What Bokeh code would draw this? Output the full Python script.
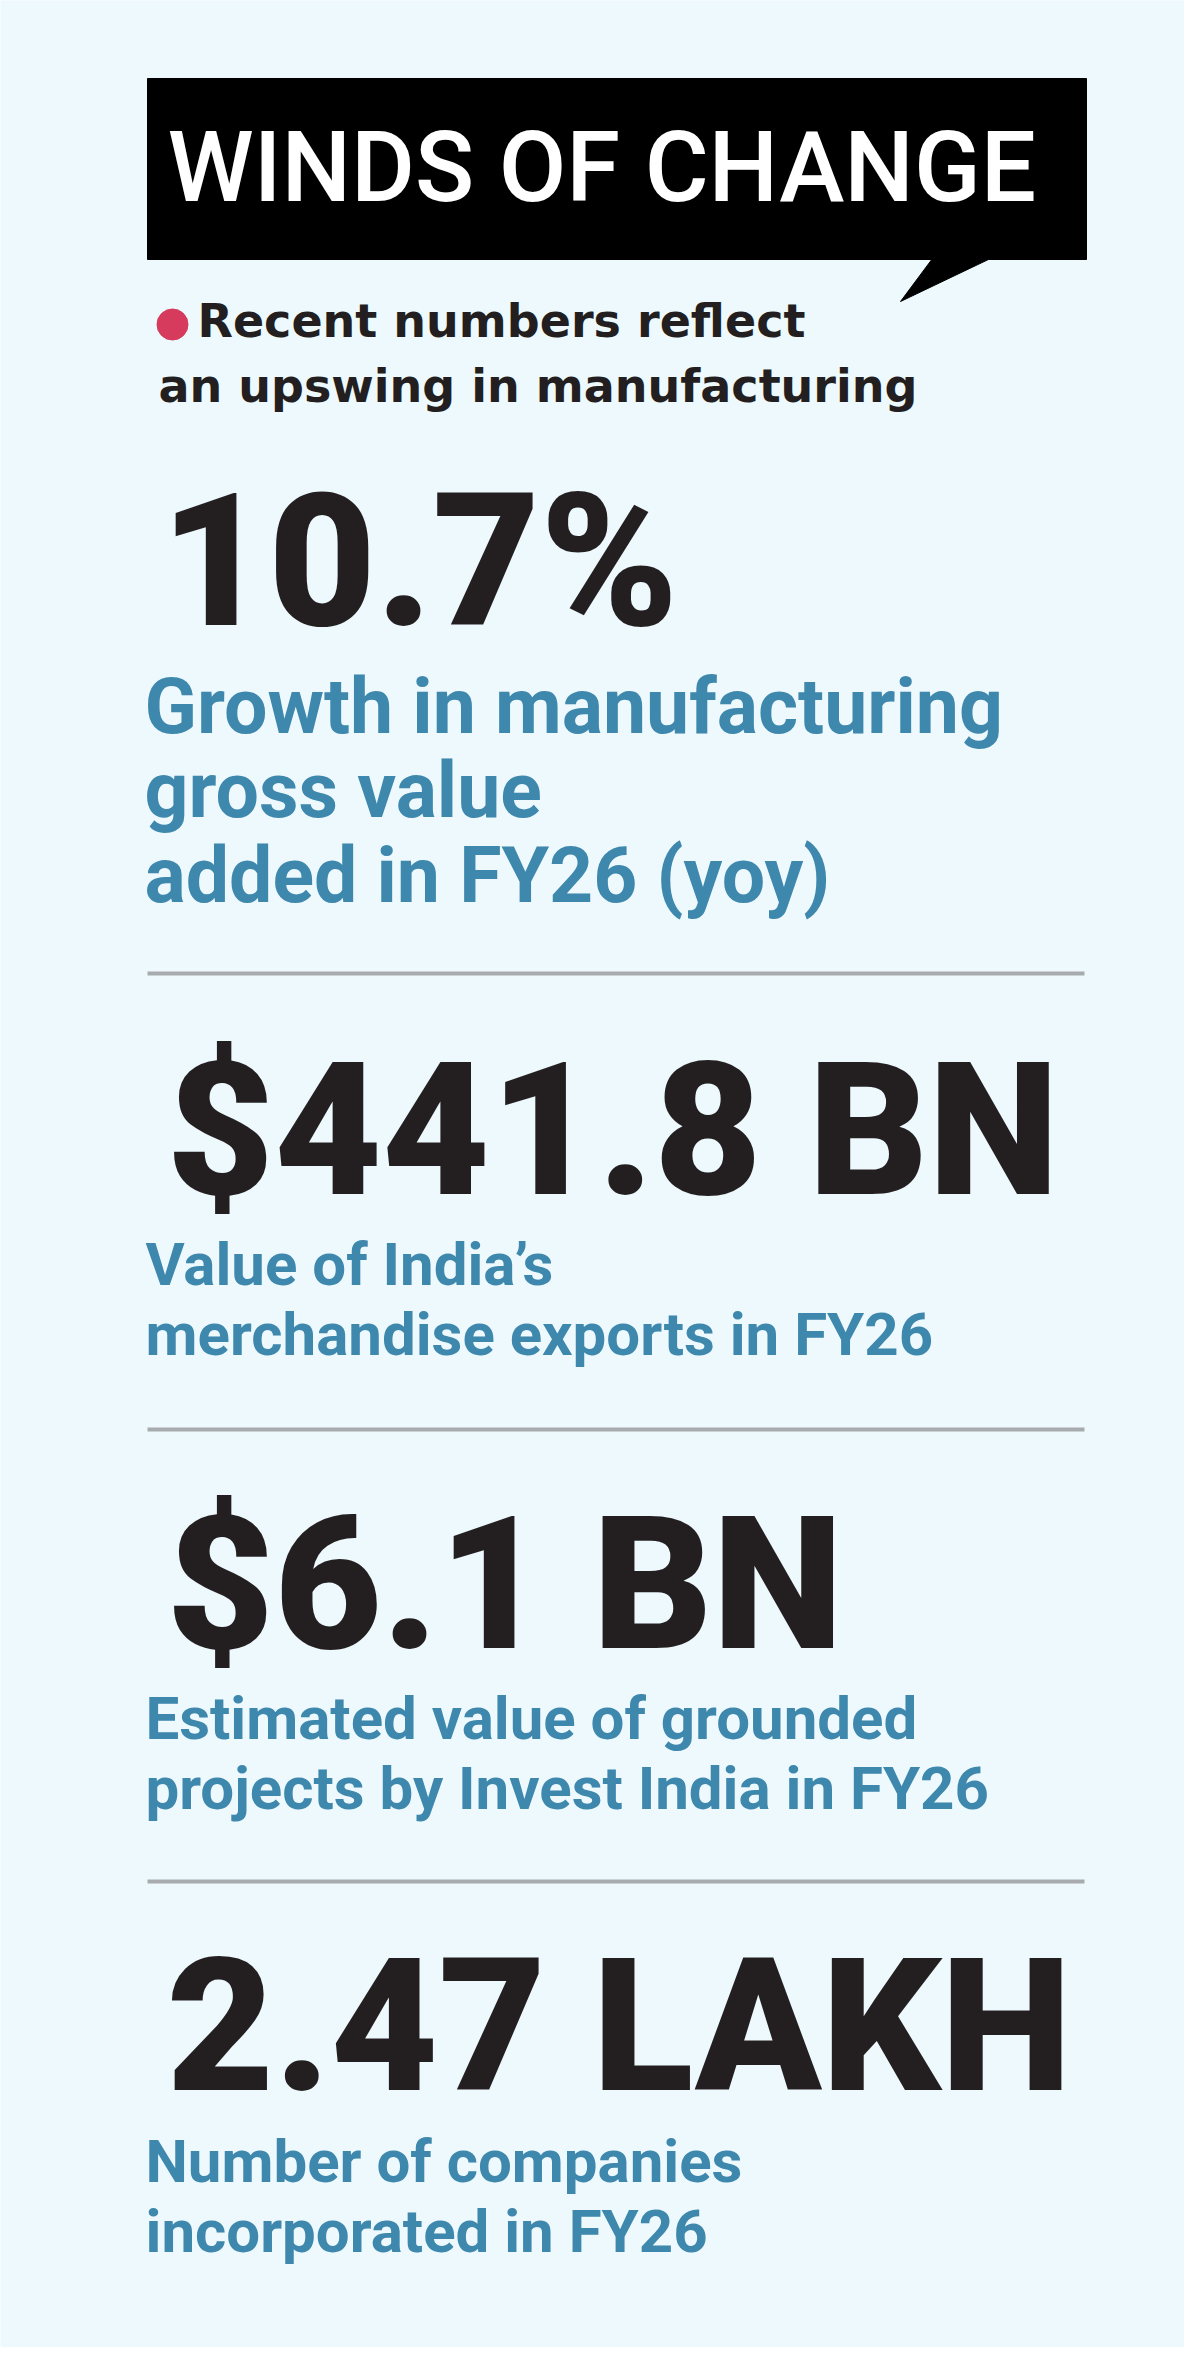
from bokeh.plotting import figure
from bokeh.models import Range1d
from bokeh.core.properties import value
from bokeh.embed import file_html
from bokeh.resources import INLINE

# ---------------- data ----------------
TITLE = "WINDS OF CHANGE"
SUBTITLE = ["Recent numbers reflect", "an upswing in manufacturing"]
STATS = ["10.7%", "$441.8 BN", "$6.1 BN", "2.47 LAKH"]
DESCRIPTIONS = [
    ["Growth in manufacturing", "gross value", "added in FY26 (yoy)"],
    ["Value of India\u2019s", "merchandise exports in FY26"],
    ["Estimated value of grounded", "projects by Invest India in FY26"],
    ["Number of companies", "incorporated in FY26"],
]

# ---------------- style / layout (page pixels) ----------------
BG = "#edf9fd"
DARK = "#231f20"
BLUE = "#3e87ad"
RED = "#d63a5c"
GREY = "#a8acaf"
K = 0.35  # correction: rendered baseline sits ~0.35em below the anchor


def base(y, size):
    return y - K * size


W, H = 1184, 2347
p = figure(width=W, height=H, x_range=Range1d(8, 8 + W), y_range=Range1d(8 + H, 8),
           output_backend="svg", toolbar_location=None, min_border=0)
p.axis.visible = False
p.grid.visible = False
p.outline_line_color = None
p.background_fill_color = BG
p.border_fill_color = BG

# title box + speech tail
p.quad(left=[155], right=[1094], top=[86], bottom=[267], color="black")
p.patch(x=[940, 998, 908], y=[266, 266, 309], color="black")
TS = 98
p.text(x=[175], y=[base(209, TS)], text=[TITLE], text_color="white",
       text_font=value("Roboto Medium"), text_font_size=f"{TS}px",
       text_baseline="alphabetic")

# subtitle with red bullet
p.circle(x=[180], y=[332], radius=15.5, color=RED)
SS = 46
p.text(x=[205, 166], y=[base(345, SS), base(410, SS)], text=SUBTITLE, text_color=DARK,
       text_font=value("DejaVu Sans"), text_font_style="bold", text_font_size=f"{SS}px",
       text_baseline="alphabetic")

# big figures
NS = 186
stat_x = [168, 174, 174, 174]
stat_y = [base(y, NS) for y in [634, 1203, 1657, 2099]]
p.text(x=stat_x, y=stat_y, text=STATS, text_color=DARK,
       text_font=value("Roboto Black"), text_font_size=f"{NS}px",
       text_baseline="alphabetic")

# descriptions
DS1 = 77
first = DESCRIPTIONS[0]
p.text(x=[152] * len(first), y=[base(y, DS1) for y in [741, 825, 910]], text=first,
       text_color=BLUE, text_font=value("Roboto"), text_font_style="bold",
       text_font_size=f"{DS1}px", text_baseline="alphabetic")

DS = 60
rest_x, rest_y, rest_t = [], [], []
for lines, y0 in zip(DESCRIPTIONS[1:], [1293, 1747, 2190]):
    for i, t in enumerate(lines):
        rest_x.append(153)
        rest_y.append(base(y0 + 70 * i, DS))
        rest_t.append(t)
p.text(x=rest_x, y=rest_y, text=rest_t, text_color=BLUE,
       text_font=value("Roboto"), text_font_style="bold", text_font_size=f"{DS}px",
       text_baseline="alphabetic")

# separators
sep_y = [981, 1437, 1889]
p.segment(x0=[155] * 3, x1=[1092] * 3, y0=sep_y, y1=sep_y, line_color=GREY, line_width=4)

open("out.html", "w").write(file_html(p, INLINE))
